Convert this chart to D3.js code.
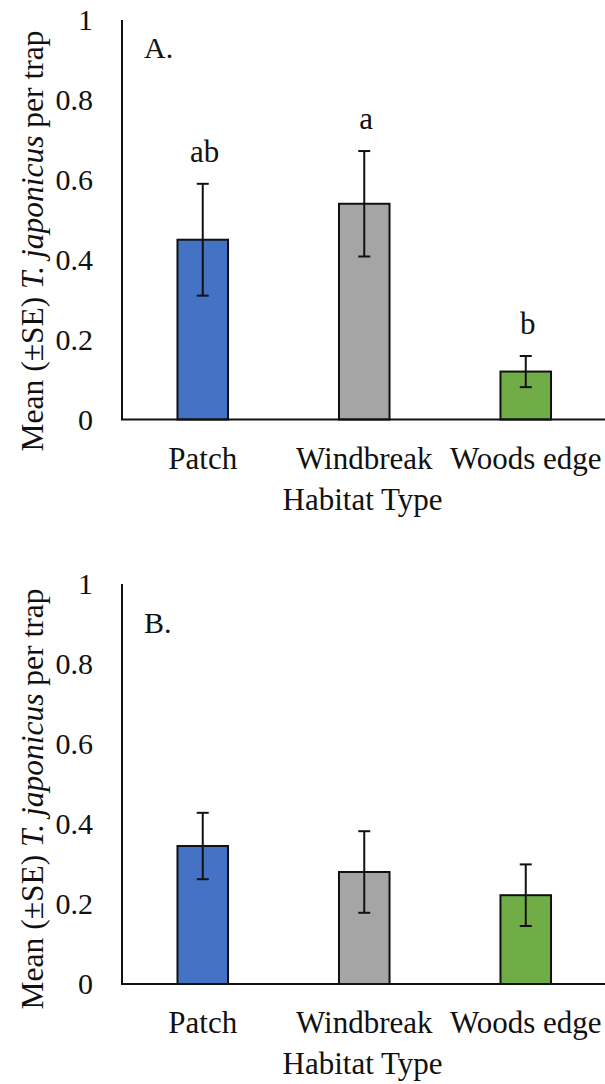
<!DOCTYPE html>
<html>
<head>
<meta charset="utf-8">
<script src="https://cdn.jsdelivr.net/npm/d3@7"></script>
<style>
  html, body { margin: 0; padding: 0; background: #fff; }
  svg { display: block; }
  svg text { font-family: "Liberation Serif", Tinos, "Times New Roman", Times, serif; fill: #111; }
</style>
</head>
<body>
<svg id="chart" width="605" height="1084"></svg>
<script>
// ---- data ----
const categories = ["Patch", "Windbreak", "Woods edge"];
const colors = ["#4472C4", "#A5A5A5", "#70AD47"];
const yTicks = [0, 0.2, 0.4, 0.6, 0.8, 1];
const yTickLabels = ["0", "0.2", "0.4", "0.6", "0.8", "1"];

const panelTitles = ["A.", "B."];
const meansA = [0.45, 0.54, 0.12];
const seA = [0.14, 0.132, 0.039];
const lettersA = ["ab", "a", "b"];

const meansB = [0.345, 0.28, 0.222];
const seB = [0.083, 0.102, 0.077];
const lettersB = ["", "", ""];

const xAxisTitle = "Habitat Type";

// ---- layout ----
const svg = d3.select("#chart");
const panels = [
  { title: panelTitles[0], means: meansA, se: seA, letters: lettersA, top: 20, bottom: 419.5, labelCenter: 241, titleY: 58 },
  { title: panelTitles[1], means: meansB, se: seB, letters: lettersB, top: 584, bottom: 984, labelCenter: 799, titleY: 633 }
];
const axisX = 122, rightX = 606.5;
const FONT = '"Liberation Serif", Tinos, "Times New Roman", Times, serif';

const x = d3.scaleBand().domain(categories).range([axisX, rightX]).paddingInner(0.687).paddingOuter(0.3435);

panels.forEach(p => {
  const g = svg.append("g").attr("font-family", FONT);
  const y = d3.scaleLinear().domain([0, 1]).range([p.bottom, p.top]);

  // y tick labels (no tick marks)
  const yAxis = d3.axisLeft(y).tickValues(yTicks).tickFormat((d, i) => yTickLabels[i]).tickSize(0).tickPadding(29);
  const ya = g.append("g").attr("transform", `translate(${axisX},0)`).call(yAxis);
  ya.attr("font-family", FONT).attr("font-size", 30);
  ya.select(".domain").remove();
  ya.selectAll("text").attr("fill", "#111");

  // bars
  g.selectAll("rect.bar").data(p.means).enter().append("rect")
    .attr("x", (d, i) => x(categories[i]))
    .attr("width", x.bandwidth())
    .attr("y", d => y(d))
    .attr("height", d => y(0) - y(d))
    .attr("fill", (d, i) => colors[i])
    .attr("stroke", "#111").attr("stroke-width", 2);

  // error bars
  const cap = 6;
  p.means.forEach((m, i) => {
    const cx = x(categories[i]) + x.bandwidth() / 2;
    const hi = y(m + p.se[i]), lo = y(m - p.se[i]);
    g.append("line").attr("x1", cx).attr("x2", cx).attr("y1", hi).attr("y2", lo)
      .attr("stroke", "#111").attr("stroke-width", 2);
    [hi, lo].forEach(yy => g.append("line").attr("x1", cx - cap).attr("x2", cx + cap)
      .attr("y1", yy).attr("y2", yy).attr("stroke", "#111").attr("stroke-width", 2));
    if (p.letters[i]) {
      g.append("text").attr("x", cx + 2).attr("y", hi - 22).attr("text-anchor", "middle")
        .attr("font-size", 31).text(p.letters[i]);
    }
  });

  // axes lines
  g.append("line").attr("x1", axisX).attr("x2", axisX).attr("y1", p.top).attr("y2", p.bottom)
    .attr("stroke", "#111").attr("stroke-width", 2);
  g.append("line").attr("x1", axisX - 1).attr("x2", 605).attr("y1", p.bottom).attr("y2", p.bottom)
    .attr("stroke", "#111").attr("stroke-width", 2);

  // category labels
  const xAxis = d3.axisBottom(x).tickSize(0).tickPadding(0);
  const xa = g.append("g").attr("transform", `translate(0,${p.bottom})`).call(xAxis);
  xa.attr("font-family", FONT).attr("font-size", 31);
  xa.select(".domain").remove();
  xa.selectAll("text").attr("fill", "#111").attr("dy", null).attr("y", 49);

  // x axis title
  g.append("text").attr("x", 362.5).attr("y", p.bottom + 90).attr("text-anchor", "middle")
    .attr("font-size", 31).text(xAxisTitle);

  // panel title
  g.append("text").attr("x", 144).attr("y", p.titleY).attr("font-size", 30).text(p.title);

  // y axis title
  const t = g.append("text").attr("transform", `translate(43,${p.labelCenter}) rotate(-90)`)
    .attr("text-anchor", "middle").attr("font-size", 31.5);
  t.append("tspan").text("Mean (±SE) ");
  t.append("tspan").attr("font-style", "italic").text("T. japonicus");
  t.append("tspan").text(" per trap");
});
</script>
</body>
</html>
